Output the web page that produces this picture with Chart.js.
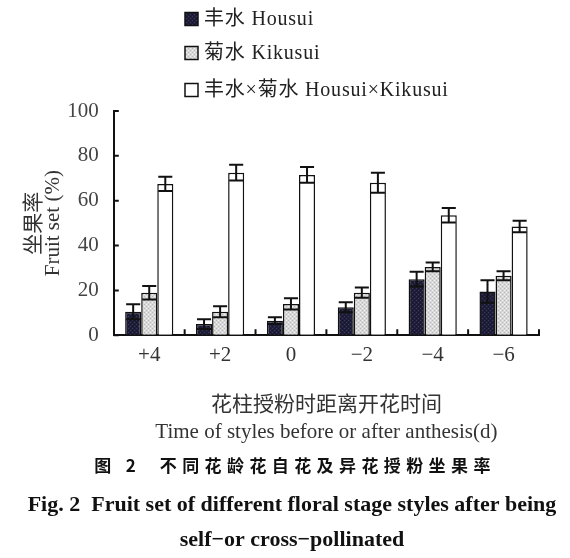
<!DOCTYPE html>
<html>
<head>
<meta charset="utf-8">
<script src="https://cdn.jsdelivr.net/npm/chart.js@4.4.1/dist/chart.umd.min.js"></script>
<style>
  html, body { margin: 0; padding: 0; background: #fff; }
  #wrap { position: relative; width: 570px; height: 558px; }
</style>
</head>
<body>
<div id="wrap"><canvas id="c" width="570" height="558"></canvas></div>
<script>
// ---- data ----
const categories = ['+4', '+2', '0', '\u22122', '\u22124', '\u22126'];
const seriesNames = ['丰水 Housui', '菊水 Kikusui', '丰水×菊水 Housui×Kikusui'];
const housui = [10.5, 5, 6.5, 12.5, 25, 19.5];
const housuiErr = [3.3, 2.2, 1.5, 2.2, 3.3, 5];
const kikusui = [19, 10.5, 14, 19, 30.5, 26.5];
const kikusuiErr = [3, 2.5, 2.5, 2.3, 2, 2];
const cross = [67.5, 72.5, 71.5, 68, 53.5, 48.5];
const crossErr = [3.2, 3.5, 3.5, 4.5, 3.2, 2.6];
const yTicks = [0, 20, 40, 60, 80, 100];
const xTitle = ['花柱授粉时距离开花时间', 'Time of styles before or after anthesis(d)'];
const yTitle = ['坐果率', 'Fruit set (%)'];
const captionCn = '图 2  不同花龄花自花及异花授粉坐果率';
const captionEn = ['Fig. 2  Fruit set of different floral stage styles after being', 'self\u2212or cross\u2212pollinated'];

const SERIF = '"Liberation Serif", "Noto Sans CJK SC", serif';

function makePattern(base, dot, dot2) {
  const c = document.createElement('canvas');
  c.width = 4; c.height = 4;
  const g = c.getContext('2d');
  g.fillStyle = base; g.fillRect(0, 0, 4, 4);
  g.fillStyle = dot; g.fillRect(0, 0, 1, 1); g.fillRect(2, 2, 1, 1);
  if (dot2) { g.fillStyle = dot2; g.fillRect(2, 0, 1, 1); g.fillRect(0, 2, 1, 1); }
  return g.createPattern(c, 'repeat');
}
const fillHousui = makePattern('#1e1e3a', '#3a3a58', '#151528');
const fillKikusui = makePattern('#d8d8d8', '#b8b8b8', '#f2f2f2');
const fillCross = '#ffffff';
const fills = [fillHousui, fillKikusui, fillCross];
const errs = [housuiErr, kikusuiErr, crossErr];

const errorBars = {
  id: 'errorBars',
  afterDatasetsDraw(chart) {
    const ctx = chart.ctx, y = chart.scales.y;
    ctx.save();
    ctx.strokeStyle = '#111';
    ctx.lineWidth = 2;
    chart.data.datasets.forEach((ds, di) => {
      const meta = chart.getDatasetMeta(di);
      meta.data.forEach((bar, i) => {
        const v = ds.data[i], e = errs[di][i];
        const yt = y.getPixelForValue(v + e), yb = y.getPixelForValue(v - e);
        const hw = bar.width / 2 - 1;
        ctx.beginPath();
        ctx.moveTo(bar.x, yt); ctx.lineTo(bar.x, yb);
        ctx.moveTo(bar.x - hw, yt); ctx.lineTo(bar.x + hw, yt);
        ctx.moveTo(bar.x - hw, yb); ctx.lineTo(bar.x + hw, yb);
        ctx.stroke();
      });
    });
    ctx.restore();
  }
};

const innerTicks = {
  id: 'innerTicks',
  afterDraw(chart) {
    const ctx = chart.ctx, a = chart.chartArea, xs = chart.scales.x, ys = chart.scales.y;
    ctx.save();
    ctx.strokeStyle = '#111';
    ctx.lineWidth = 2;
    ctx.beginPath();
    yTicks.forEach(t => {
      const py = ys.getPixelForValue(t);
      ctx.moveTo(a.left, py); ctx.lineTo(a.left + 5, py);
    });
    for (let i = 0; i < categories.length; i++) {
      let px;
      if (i < categories.length - 1) px = (xs.getPixelForValue(i) + xs.getPixelForValue(i + 1)) / 2;
      else px = a.right;
      ctx.moveTo(px, a.bottom); ctx.lineTo(px, a.bottom - 6);
    }
    ctx.stroke();
    ctx.restore();
  }
};

const texts = {
  id: 'texts',
  afterDraw(chart) {
    const ctx = chart.ctx;
    ctx.save();
    // legend
    const rows = [19, 53, 90];
    chart.data.datasets.forEach((ds, i) => {
      const bx = 185, by = rows[i] - 6.5;
      ctx.fillStyle = ds.backgroundColor;
      ctx.fillRect(bx, by, 13, 13);
      ctx.strokeStyle = '#111'; ctx.lineWidth = 1.5;
      ctx.strokeRect(bx, by, 13, 13);
      ctx.fillStyle = '#222';
      ctx.font = '20px ' + SERIF;
      ctx.textAlign = 'left'; ctx.textBaseline = 'middle';
      if ('letterSpacing' in ctx) ctx.letterSpacing = '0.8px';
      ctx.fillText(ds.label, 204, rows[i] + 1);
      if ('letterSpacing' in ctx) ctx.letterSpacing = '0px';
    });
    // captions
    ctx.fillStyle = '#111';
    ctx.textAlign = 'center'; ctx.textBaseline = 'middle';
    ctx.font = 'bold 17px "Noto Sans CJK SC", sans-serif';
    if ('letterSpacing' in ctx) ctx.letterSpacing = '5.4px';
    ctx.fillText(captionCn, 295, 466);
    if ('letterSpacing' in ctx) ctx.letterSpacing = '0px';
    ctx.font = 'bold 22px "Liberation Serif", serif';
    ctx.fillText(captionEn[0], 292, 505);
    ctx.fillText(captionEn[1], 292, 540);
    ctx.restore();
  }
};

new Chart(document.getElementById('c'), {
  type: 'bar',
  data: {
    labels: categories,
    datasets: [
      { label: seriesNames[0], data: housui, backgroundColor: fills[0] },
      { label: seriesNames[1], data: kikusui, backgroundColor: fills[1] },
      { label: seriesNames[2], data: cross, backgroundColor: fills[2] }
    ].map(d => Object.assign(d, { borderColor: '#111', borderWidth: 1.5, categoryPercentage: 0.68, barPercentage: 1.0 }))
  },
  options: {
    responsive: false,
    animation: false,
    devicePixelRatio: 1,
    layout: { padding: { top: 111, right: 31, left: 25, bottom: 112.5 } },
    plugins: { legend: { display: false }, tooltip: { enabled: false }, title: { display: false } },
    scales: {
      x: {
        grid: { display: true, drawOnChartArea: false, drawTicks: false },
        border: { display: true, color: '#111', width: 2 },
        ticks: { color: '#333', font: { family: SERIF, size: 21 }, padding: 8 },
        title: { display: true, text: xTitle, color: '#333', font: { family: SERIF, size: 21, lineHeight: 1.286 }, padding: { top: 15, bottom: 0 } }
      },
      y: {
        min: 0, max: 100,
        afterBuildTicks(scale) { scale.ticks = yTicks.map(v => ({ value: v })); },
        grid: { display: true, drawOnChartArea: false, drawTicks: false },
        border: { display: true, color: '#111', width: 2 },
        ticks: { color: '#444', font: { family: SERIF, size: 21 }, padding: 15 },
        title: { display: true, text: yTitle, color: '#333', font: { family: SERIF, size: 21, lineHeight: 0.9 }, padding: { top: 0, bottom: -10.5 } }
      }
    }
  },
  plugins: [errorBars, innerTicks, texts]
});
</script>
</body>
</html>
